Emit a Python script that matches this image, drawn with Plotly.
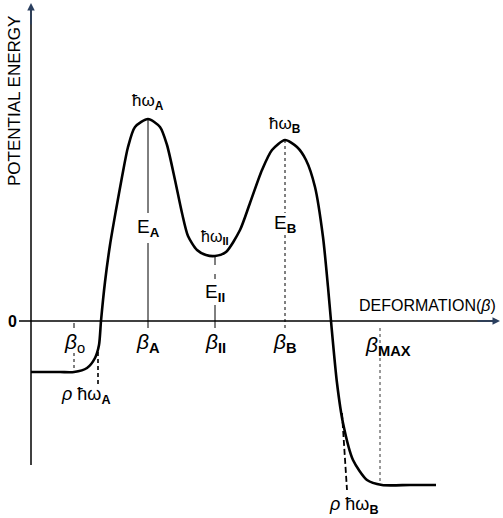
import plotly.graph_objects as go

# Potential energy curve (deformation beta, energy), arbitrary units
curve_beta = [0.0, 2.9, 4.3, 5.6, 6.4, 6.8, 7.0, 7.4, 7.9, 8.5, 9.1, 9.7, 10.4, 11.7,
              12.9, 13.6, 14.4, 15.1, 15.7, 16.6, 17.5, 18.4, 19.5, 20.9, 21.9, 23.1,
              24.1, 25.4, 26.6, 27.5, 28.4, 29.2, 29.7, 30.0, 30.6, 31.2, 32.2, 33.6,
              35.1, 37.9, 40.5]
curve_energy = [-5.1, -5.1, -5.1, -4.7, -3.7, -2.4, 0.0, 3.9, 7.6, 11.1, 14.4, 17.4, 19.4, 20.2,
                19.4, 17.6, 14.1, 10.8, 8.5, 7.1, 6.6, 6.5, 6.9, 9.1, 11.8, 15.1,
                17.1, 18.1, 17.4, 16.1, 13.4, 8.4, 3.4, 0.0, -6.2, -10.2, -13.9, -15.9,
                -16.4, -16.4, -16.4]

# Characteristic deformations and energies
beta_0, beta_A, beta_II, beta_B, beta_MAX = 4.3, 11.7, 18.4, 25.4, 34.9
E_ground, E_A, E_II, E_B, E_end = -5.1, 20.2, 6.5, 18.1, -16.4

# Tangent (dashed) segments rho*hbar*omega
tan_A_beta = [6.7, 6.7]
tan_A_energy = [-3.1, -6.3]
tan_B_beta = [31.1, 31.6]
tan_B_energy = [-9.2, -16.9]

FONT = "Liberation Sans"
fig = go.Figure()

fig.add_trace(go.Scatter(x=curve_beta, y=curve_energy, mode="lines",
                         line=dict(color="black", width=2.6, shape="spline", smoothing=0.7),
                         hoverinfo="skip"))
fig.add_trace(go.Scatter(x=tan_A_beta, y=tan_A_energy, mode="lines",
                         line=dict(color="black", width=1.6, dash="4px,3px"), hoverinfo="skip"))
fig.add_trace(go.Scatter(x=tan_B_beta, y=tan_B_energy, mode="lines",
                         line=dict(color="black", width=1.8, dash="6px,3px"), hoverinfo="skip"))

def vline(x, y0, y1, width=1.0, dash="solid"):
    fig.add_shape(type="line", xref="x", yref="y", x0=x, x1=x, y0=y0, y1=y1,
                  line=dict(color="black", width=width, dash=dash))

# vertical guide lines with gaps for labels
vline(beta_A, E_A, 10.8, 1.0)
vline(beta_A, 7.8, -0.7, 1.0)
vline(beta_II, E_II, 4.2, 1.0, "dash")
vline(beta_II, 1.6, -0.7, 1.0)
vline(beta_B, E_B, 10.8, 1.0, "dot")
vline(beta_B, 8.6, -0.7, 1.0, "dot")
vline(beta_0, -0.2, -0.7, 1.0)
vline(beta_0, -3.2, E_ground, 1.0, "dot")
vline(beta_MAX, -0.7, E_end, 0.8, "dot")

# axes
fig.add_shape(type="line", xref="x", yref="y", x0=-1.2, x1=46.5, y0=0, y1=0,
              line=dict(color="black", width=1.5))
fig.add_shape(type="line", xref="x", yref="y", x0=0, x1=0, y0=-14.4, y1=31.4,
              line=dict(color="black", width=1.5))
fig.add_annotation(x=46.9, y=0, ax=44.5, ay=0, xref="x", yref="y", axref="x", ayref="y",
                   showarrow=True, arrowhead=2, arrowsize=1, arrowwidth=1.5, text="")
fig.add_annotation(x=0, y=31.8, ax=0, ay=29.5, xref="x", yref="y", axref="x", ayref="y",
                   showarrow=True, arrowhead=2, arrowsize=1, arrowwidth=1.5, text="")

def label(x, y, text, size=16, **kw):
    fig.add_annotation(x=x, y=y, xref="x", yref="y", text=text, showarrow=False,
                       font=dict(family=FONT, size=size, color="black"), **kw)

label(-1.9, 0, "<b>0</b>", 16)
label(46.7, 1.6, "DEFORMATION(<i>β</i>)", 16, xanchor="right")
label(-1.7, 22.0, "POTENTIAL ENERGY", 17, textangle=-90)

label(beta_A, 21.9, "ħω<sub><b>A</b></sub>", 17)
label(beta_II, 8.4, "ħω<sub><b>II</b></sub>", 16)
label(beta_B, 19.6, "ħω<sub><b>B</b></sub>", 17)
label(beta_A, 9.3, "E<sub><b>A</b></sub>", 19)
label(beta_B, 9.7, "E<sub><b>B</b></sub>", 19)
label(beta_II, 2.8, "E<sub><b>II</b></sub>", 19)

label(beta_0, -2.2, "<i>β</i><sub>o</sub>", 21)
label(beta_A, -2.2, "<i>β</i><sub><b>A</b></sub>", 21)
label(beta_II, -2.2, "<i>β</i><sub><b>II</b></sub>", 21)
label(beta_B, -2.2, "<i>β</i><sub><b>B</b></sub>", 21)
label(beta_MAX + 0.8, -2.5, "<i>β</i><sub><b>MAX</b></sub>", 21)

label(5.5, -7.4, "<i>ρ</i> ħω<sub><b>A</b></sub>", 18)
label(32.3, -18.4, "<i>ρ</i> ħω<sub><b>B</b></sub>", 18)

fig.update_layout(
    width=503, height=518, margin=dict(l=0, r=0, t=0, b=0),
    paper_bgcolor="white", plot_bgcolor="white", showlegend=False,
    xaxis=dict(range=[-3.1, 47.2], visible=False, fixedrange=True),
    yaxis=dict(range=[-19.7, 32.1], visible=False, fixedrange=True),
)
fig.write_html("out.html", config={"displayModeBar": False},
               post_script="document.body.style.margin='0';document.body.style.overflow='hidden';")
